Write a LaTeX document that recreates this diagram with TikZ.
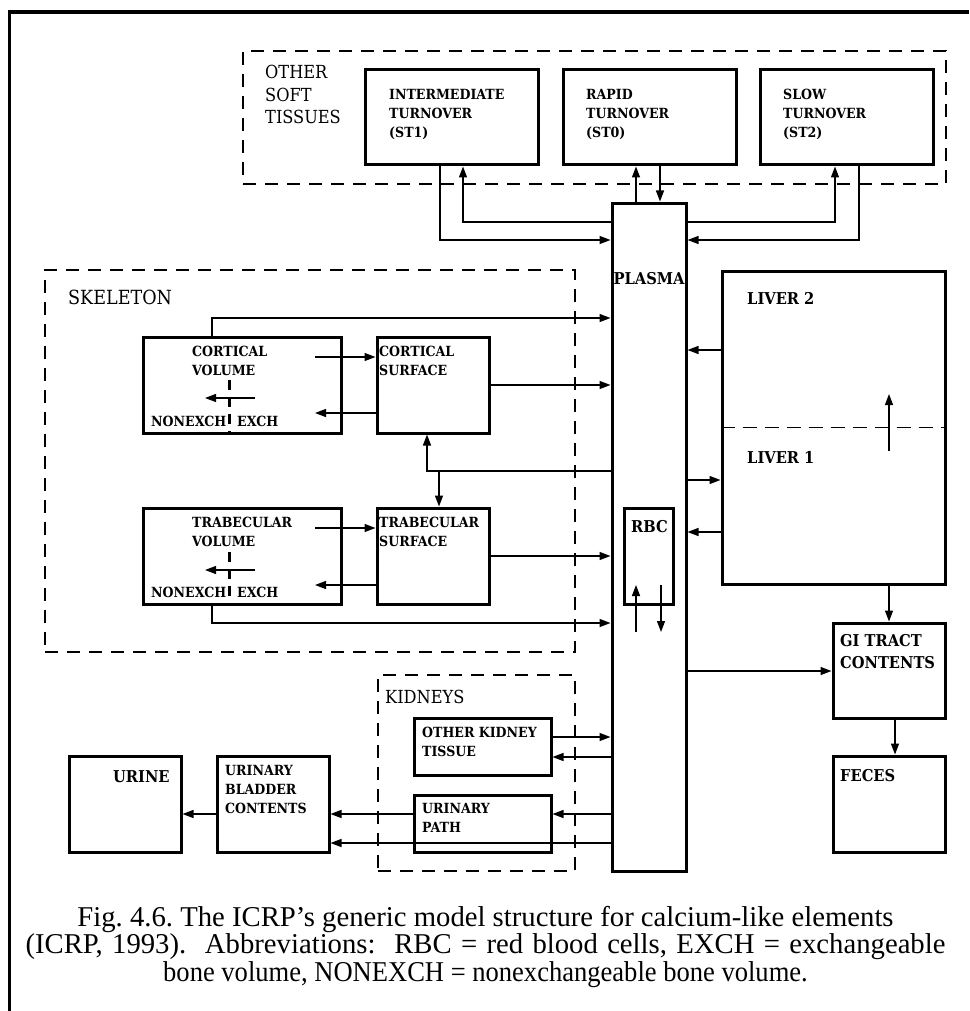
\documentclass[tikz,border=0pt]{standalone}
\usepackage{fontspec}
\setmainfont{Liberation Serif}
\newfontfamily\lblfont{DejaVu Serif Condensed}
\usetikzlibrary{arrows.meta,fit}
\begin{document}
\begin{tikzpicture}[x=1pt,y=-1pt,
  box/.style={draw, line width=3pt, inner sep=0pt},
  grp/.style={draw, line width=2.8pt, dash pattern=on 13pt off 9pt, inner sep=0pt},
  lbl/.style={font=\lblfont\bfseries\fontsize{14}{19}\selectfont, align=left, inner sep=0pt, anchor=north west},
  biglbl/.style={lbl, font=\lblfont\bfseries\fontsize{16.3}{22}\selectfont},
  glbl/.style={font=\lblfont\fontsize{18}{22.5}\selectfont, align=left, inner sep=0pt, anchor=north west},
  conn/.style={line width=1.3pt, -{Triangle[length=11pt,width=8pt]}},
  sep/.style={line width=2.5pt, dash pattern=on 10pt off 7pt},
]
\useasboundingbox (0,0) rectangle (969,1011);
\draw[line width=3.5pt] (9.5,1011) -- (9.5,12) -- (969,12);

% group boxes
\node[grp, fit={(243,51) (946,184)}] (ost) {};
\node[grp, fit={(45,270) (575,652)}] (skel) {};
\node[grp, fit={(378,675) (575,871)}] (kid) {};

% boxes
\node[box, fit={(365,70) (538,165)}] (st1) {};
\node[box, fit={(563,70) (736,165)}] (st0) {};
\node[box, fit={(760,70) (933,165)}] (st2) {};
\node[box, fit={(612,203) (686,871)}] (plasma) {};
\node[box, fit={(143,337) (341,433)}] (cv) {};
\node[box, fit={(377,337) (489,433)}] (cs) {};
\node[box, fit={(143,508) (341,604)}] (tv) {};
\node[box, fit={(377,508) (489,604)}] (ts) {};
\node[box, fit={(624,508) (673,604)}] (rbc) {};
\node[box, fit={(722,271) (945,584)}] (liver) {};
\node[box, fit={(833,623) (945,718)}] (gi) {};
\node[box, fit={(833,756) (945,852)}] (feces) {};
\node[box, fit={(414,718) (551,775)}] (okt) {};
\node[box, fit={(414,795) (551,852)}] (upath) {};
\node[box, fit={(217,756) (329,852)}] (ubc) {};
\node[box, fit={(69,756) (181,852)}] (urine) {};

% labels
\node[glbl] (ostT) at (265,65) {OTHER\\SOFT\\TISSUES};
\node[glbl, font=\lblfont\fontsize{19.5}{22.5}\selectfont] (skelT) at (68,290) {SKELETON};
\node[glbl] (kidT) at (385,690) {KIDNEYS};
\node[lbl] (st1T) at (389,89) {INTERMEDIATE\\TURNOVER\\(ST1)};
\node[lbl] (st0T) at (586,89) {RAPID\\TURNOVER\\(ST0)};
\node[lbl] (st2T) at (783,89) {SLOW\\TURNOVER\\(ST2)};
\node[biglbl, anchor=north] (plasmaT) at (649,272) {PLASMA};
\node[lbl] (cvT) at (192,346) {CORTICAL\\VOLUME};
\node[lbl] (csT) at (379,346) {CORTICAL\\SURFACE};
\node[lbl] (cvN) at (151,416) {NONEXCH};
\node[lbl] (cvE) at (237,416) {EXCH};
\node[lbl] (tvT) at (192,517) {TRABECULAR\\VOLUME};
\node[lbl] (tsT) at (379,517) {TRABECULAR\\SURFACE};
\node[lbl] (tvN) at (151,587) {NONEXCH};
\node[lbl] (tvE) at (237,587) {EXCH};
\node[biglbl] (rbcT) at (631,520) {RBC};
\node[biglbl] (liv2T) at (747,292) {LIVER 2};
\node[biglbl] (liv1T) at (747,451) {LIVER 1};
\node[biglbl] (giT) at (840,634) {GI TRACT\\CONTENTS};
\node[biglbl] (fecesT) at (840,769) {FECES};
\node[lbl] (oktT) at (422,727) {OTHER KIDNEY\\TISSUE};
\node[lbl] (upathT) at (422,803) {URINARY\\PATH};
\node[lbl] (ubcT) at (225,765) {URINARY\\BLADDER\\CONTENTS};
\node[biglbl] (urineT) at (113,770) {URINE};

% soft tissue exchanges
\draw[conn] (440,0 |- st1.south) -- (440,240) -- (plasma.west |- 0,240);
\draw[conn] (plasma.west |- 0,222) -- (463,222) -- (463,0 |- st1.south);
\draw[conn] (636,0 |- plasma.north) -- (636,0 |- st0.south);
\draw[conn] (660,0 |- st0.south) -- (660,0 |- plasma.north);
\draw[conn] (plasma.east |- 0,222) -- (835,222) -- (835,0 |- st2.south);
\draw[conn] (859,0 |- st2.south) -- (859,240) -- (plasma.east |- 0,240);

% skeleton
\draw[conn] (212,0 |- cv.north) -- (212,318) -- (plasma.west |- 0,318);
\coordinate (cvA) at (315,357);
\coordinate (cvB) at (315,413);
\draw[conn] (cvA) -- (cs.west |- cvA);
\draw[conn] (cs.west |- cvB) -- (cvB);
\coordinate (cvI1) at (255,398);
\coordinate (cvI2) at (205,398);
\draw[conn] (cvI1) -- (cvI2);
\draw[sep] (229.5,380) -- (229.5,433);
\draw[conn] (cs.east |- 0,385) -- (plasma.west |- 0,385);
\draw[conn] (plasma.west |- 0,471) -- (427,471) -- (427,0 |- cs.south);
\draw[conn] (439,471) -- (439,0 |- ts.north);

\coordinate (tvA) at (315,528);
\coordinate (tvB) at (315,585);
\draw[conn] (tvA) -- (ts.west |- tvA);
\draw[conn] (ts.west |- tvB) -- (tvB);
\coordinate (tvI1) at (255,570);
\coordinate (tvI2) at (205,570);
\draw[conn] (tvI1) -- (tvI2);
\draw[sep] (229.5,552) -- (229.5,604);
\draw[conn] (ts.east |- 0,556) -- (plasma.west |- 0,556);
\draw[conn] (212,0 |- tv.south) -- (212,623) -- (plasma.west |- 0,623);

% RBC
\coordinate (rbcU1) at (636,632);
\coordinate (rbcU2) at (636,585);
\coordinate (rbcD1) at (661,585);
\coordinate (rbcD2) at (661,632);
\draw[conn] (rbcU1) -- (rbcU2);
\draw[conn] (rbcD1) -- (rbcD2);

% liver
\draw[line width=1pt, dash pattern=on 14pt off 8pt] (liver.west |- 0,427) -- (liver.east |- 0,427);
\coordinate (livI1) at (889,451);
\coordinate (livI2) at (889,394);
\draw[conn] (livI1) -- (livI2);
\draw[conn] (liver.west |- 0,350) -- (plasma.east |- 0,350);
\draw[conn] (plasma.east |- 0,480) -- (liver.west |- 0,480);
\draw[conn] (liver.west |- 0,532) -- (plasma.east |- 0,532);
\draw[conn] (889,0 |- liver.south) -- (889,0 |- gi.north);
\draw[conn] (plasma.east |- 0,671) -- (gi.west |- 0,671);
\draw[conn] (895,0 |- gi.south) -- (895,0 |- feces.north);

% kidneys and urine
\draw[conn] (okt.east |- 0,737) -- (plasma.west |- 0,737);
\draw[conn] (plasma.west |- 0,757) -- (okt.east |- 0,757);
\draw[conn] (plasma.west |- 0,814) -- (upath.east |- 0,814);
\draw[conn] (upath.west |- 0,814) -- (ubc.east |- 0,814);
\draw[conn] (plasma.west |- 0,843) -- (ubc.east |- 0,843);
\draw[conn] (ubc.west |- 0,814) -- (urine.east |- 0,814);

% caption
\node[font=\fontsize{28.7}{27.5}\selectfont\frenchspacing, align=center, inner sep=0pt, anchor=north] (cap) at (485.5,906)
  {Fig. 4.6. The ICRP’s generic model structure for calcium-like elements\\
   \makebox[920pt][s]{(ICRP, 1993).\ \ Abbreviations:\ \ RBC = red blood cells, EXCH = exchangeable}\\
   \scalebox{0.925}[1]{bone volume, NONEXCH = nonexchangeable bone volume.}};
\end{tikzpicture}
\end{document}
